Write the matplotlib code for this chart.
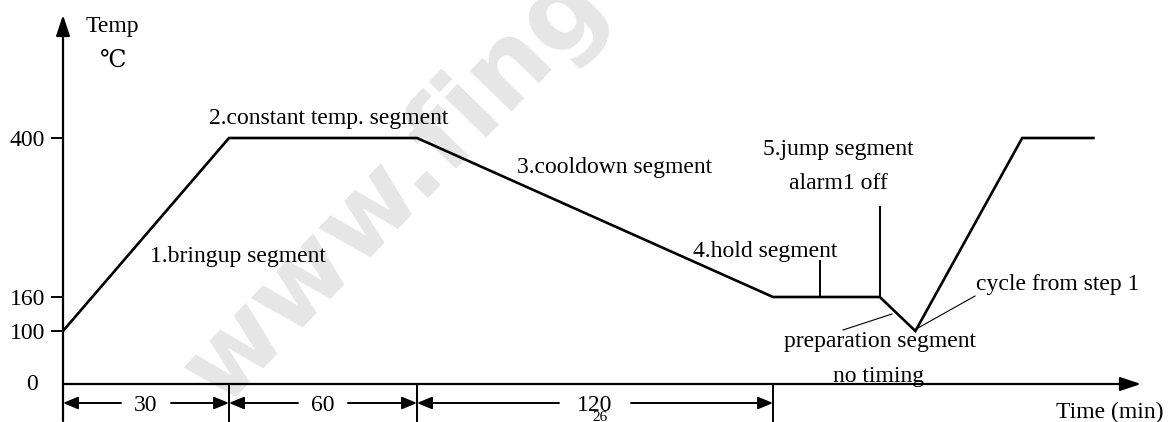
import numpy as np
import matplotlib
matplotlib.use('Agg')
import matplotlib.pyplot as plt

# temperature profile (time in min, temp in C)
time_min = [0, 30, 90, 210, 246, 258, 294, 318]
temp_c = [100, 400, 400, 160, 160, 100, 400, 400]
seg_bounds = [0, 30, 90, 210]
seg_lengths = [30, 60, 120]
temp_ticks = [100, 160, 400]
hold_mark = 226
jump_at = 246

# the drawing is schematic, so the axes are piecewise linear
X_KNOTS = [0, 30, 90, 210]
X_PIX = [63, 229, 417, 773]
Y_KNOTS = [0, 100, 160, 400]
Y_PIX = [38, 91, 125, 284]
W, H = 1171, 422


def piecewise(v, xp, fp):
    v = np.asarray(v, dtype=float)
    out = np.interp(v, xp, fp)
    lo_slope = (fp[1] - fp[0]) / (xp[1] - xp[0])
    hi_slope = (fp[-1] - fp[-2]) / (xp[-1] - xp[-2])
    out = np.where(v < xp[0], fp[0] + (v - xp[0]) * lo_slope, out)
    out = np.where(v > xp[-1], fp[-1] + (v - xp[-1]) * hi_slope, out)
    return out


def fwd_x(v): return piecewise(v, X_KNOTS, X_PIX)
def inv_x(p): return piecewise(p, X_PIX, X_KNOTS)
def fwd_y(v): return piecewise(v, Y_KNOTS, Y_PIX)
def inv_y(p): return piecewise(p, Y_PIX, Y_KNOTS)


def P(px, py):
    # picture position (from top-left) -> data coords
    return float(inv_x(px)), float(inv_y(H - py))


fig = plt.figure(figsize=(W / 100, H / 100), dpi=100)
ax = fig.add_axes([0, 0, 1, 1])
ax.set_xscale('function', functions=(fwd_x, inv_x))
ax.set_yscale('function', functions=(fwd_y, inv_y))
ax.set_xlim(float(inv_x(0)), float(inv_x(W)))
ax.set_ylim(float(inv_y(0)), float(inv_y(H)))
ax.axis('off')

serif = ['Liberation Serif', 'DejaVu Serif', 'DejaVu Sans']
FS = 17

# watermark
ax.text(*P(222, 408), 'www.fing', rotation=46, rotation_mode='anchor',
        ha='left', va='baseline', fontsize=76, color='#e6e6e6',
        family='DejaVu Sans', fontweight='bold', zorder=0)

axis_arrow = dict(arrowstyle='-|>,head_length=0.9,head_width=0.3', lw=1.6,
                  color='k', mutation_scale=14, shrinkA=0, shrinkB=0)
# y axis
ax.annotate('', xy=P(63, 15), xytext=P(63, 421), arrowprops=axis_arrow)
# x axis
ax.annotate('', xy=(float(inv_x(1141)), 0), xytext=(0, 0), arrowprops=axis_arrow)

# y ticks
for v in temp_ticks:
    ax.plot([float(inv_x(52)), 0], [v, v], color='k', lw=1.4)
    ax.text(float(inv_x(45)), v, str(v), ha='right', va='center_baseline',
            fontsize=FS, family=serif)
ax.text(*P(32, 390), '0', ha='center', va='baseline', fontsize=FS, family=serif)

# x ticks and dimension arrows
y_bot = float(inv_y(0))
for b in seg_bounds[1:]:
    ax.plot([b, b], [0, y_bot], color='k', lw=1.4)
y_dim = float(inv_y(H - 403))
dim_arrow = dict(arrowstyle='-|>,head_length=0.6,head_width=0.25', lw=1.4,
                 color='k', mutation_scale=15, shrinkA=0, shrinkB=0)
for a, b, L in zip(seg_bounds[:-1], seg_bounds[1:], seg_lengths):
    c = (float(fwd_x(a)) + float(fwd_x(b))) / 2
    g = 25 if L < 100 else 36
    ax.annotate('', xy=(a, y_dim), xytext=(float(inv_x(c - g)), y_dim), arrowprops=dim_arrow)
    ax.annotate('', xy=(b, y_dim), xytext=(float(inv_x(c + g)), y_dim), arrowprops=dim_arrow)
    ax.text(float(inv_x(c)), y_dim, str(L), ha='center', va='center_baseline',
            fontsize=FS, family=serif)
ax.text(*P(600, 421), '26', ha='center', va='baseline', fontsize=11, family=serif)

# profile
ax.plot(time_min, temp_c, color='k', lw=1.9, solid_joinstyle='miter')
ax.plot([hold_mark, hold_mark], [160, float(inv_y(H - 261))], color='k', lw=1.4)
ax.plot([jump_at, jump_at], [160, float(inv_y(H - 207))], color='k', lw=1.4)

# leader lines
for (x0, y0), (x1, y1) in [((843, 330), (892, 314)), ((918, 328), (975, 296))]:
    p0, p1 = P(x0, y0), P(x1, y1)
    ax.plot([p0[0], p1[0]], [p0[1], p1[1]], color='k', lw=0.8)

# labels
labels = [
    ('Temp', 86, 32, 'left'),
    ('\u2103', 100, 67, 'left'),
    ('1.bringup segment', 150, 262, 'left'),
    ('2.constant temp. segment', 209, 124, 'left'),
    ('3.cooldown segment', 517, 173, 'left'),
    ('4.hold segment', 837, 257, 'right'),
    ('5.jump segment', 838, 155, 'center'),
    ('alarm1 off', 838, 189, 'center'),
    ('cycle from step 1', 976, 290, 'left'),
    ('preparation segment', 880, 347, 'center'),
    ('no timing', 879, 382, 'center'),
    ('Time (min)', 1163, 418, 'right'),
]
for s, px, py, ha in labels:
    ax.text(*P(px, py), s, ha=ha, va='baseline', fontsize=FS, family=serif)

fig.savefig('out.png', dpi=100)
